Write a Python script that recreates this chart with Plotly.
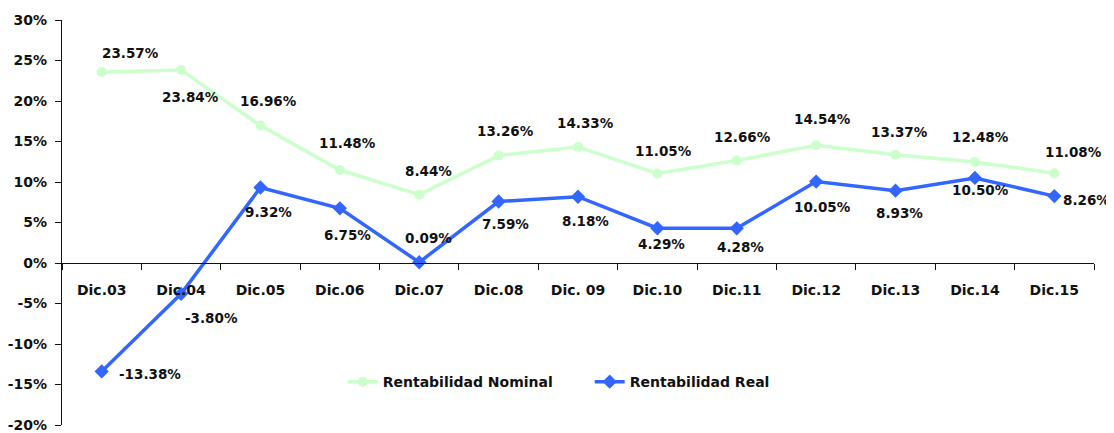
import plotly.graph_objects as go

categories = ["Dic.03", "Dic.04", "Dic.05", "Dic.06", "Dic.07", "Dic.08", "Dic. 09",
              "Dic.10", "Dic.11", "Dic.12", "Dic.13", "Dic.14", "Dic.15"]
nominal = [23.57, 23.84, 16.96, 11.48, 8.44, 13.26, 14.33, 11.05, 12.66, 14.54, 13.37, 12.48, 11.08]
real = [-13.38, -3.80, 9.32, 6.75, 0.09, 7.59, 8.18, 4.29, 4.28, 10.05, 8.93, 10.50, 8.26]
y_ticks = [-20, -15, -10, -5, 0, 5, 10, 15, 20, 25, 30]

# label offsets in pixels (dx, dy) -- layout only
nom_off = [(29, 19), (9, -27), (8, 25), (8, 27), (9, 24), (7, 25), (7, 24),
           (6, 23), (6, 23), (6, 26), (4, 23), (6, 25), (19, 21)]
real_off = [(48, -3), (30, -24), (8, -24), (8, -27), (9, 24), (7, -22), (7, -24),
            (4, -16), (4, -19), (6, -25), (4, -22), (6, -12), (32, -4)]

GREEN = "#CCFFCC"
BLUE = "#3366FF"
FONT = "DejaVu Sans"

fig = go.Figure()
fig.add_trace(go.Scatter(
    x=categories, y=nominal, name="Rentabilidad Nominal", mode="lines+markers",
    line=dict(color=GREEN, width=3.5), marker=dict(symbol="circle", size=10, color=GREEN)))
fig.add_trace(go.Scatter(
    x=categories, y=real, name="Rentabilidad Real", mode="lines+markers",
    line=dict(color=BLUE, width=3.5), marker=dict(symbol="diamond", size=11, color=BLUE)))

for series, offs in ((nominal, nom_off), (real, real_off)):
    for c, v, (dx, dy) in zip(categories, series, offs):
        fig.add_annotation(x=c, y=v, text=f"{v:.2f}%", showarrow=False,
                           xshift=dx, yshift=dy, xanchor="center", yanchor="middle",
                           font=dict(family=FONT, size=13.5, color="#111111", weight="bold"))

fig.update_layout(
    width=1106, height=425,
    margin=dict(l=54, r=20, t=12, b=8, autoexpand=False),
    paper_bgcolor="white", plot_bgcolor="white",
    font=dict(family=FONT, size=13, color="#111111", weight="bold"),
    showlegend=True,
    legend=dict(orientation="h", x=0.272, y=0.106, xanchor="left", yanchor="middle",
                font=dict(family=FONT, size=14, color="#111111", weight="bold"),
                bgcolor="rgba(0,0,0,0)", itemwidth=30, entrywidth=202, entrywidthmode="pixels",
                tracegroupgap=0),
    xaxis=dict(type="category", range=[-0.5, 12.5], anchor="free", position=0.4,
               showline=True, linecolor="#111111", linewidth=1.2, automargin=False,
               ticks="outside", ticklen=6, tickcolor="#111111", tickson="boundaries",
               ticklabelstandoff=14,
               showgrid=False, zeroline=False,
               tickfont=dict(family=FONT, size=14, color="#111111", weight="bold")),
    yaxis=dict(range=[-20, 30], tickvals=y_ticks, ticktext=[f"{t}%" for t in y_ticks],
               showline=True, linecolor="#111111", linewidth=1.2, automargin=False,
               ticks="outside", ticklen=6, tickcolor="#111111", ticklabelstandoff=5,
               showgrid=False, zeroline=False,
               tickfont=dict(family=FONT, size=14, color="#111111", weight="bold")),
)

fig.write_html("out.html")
